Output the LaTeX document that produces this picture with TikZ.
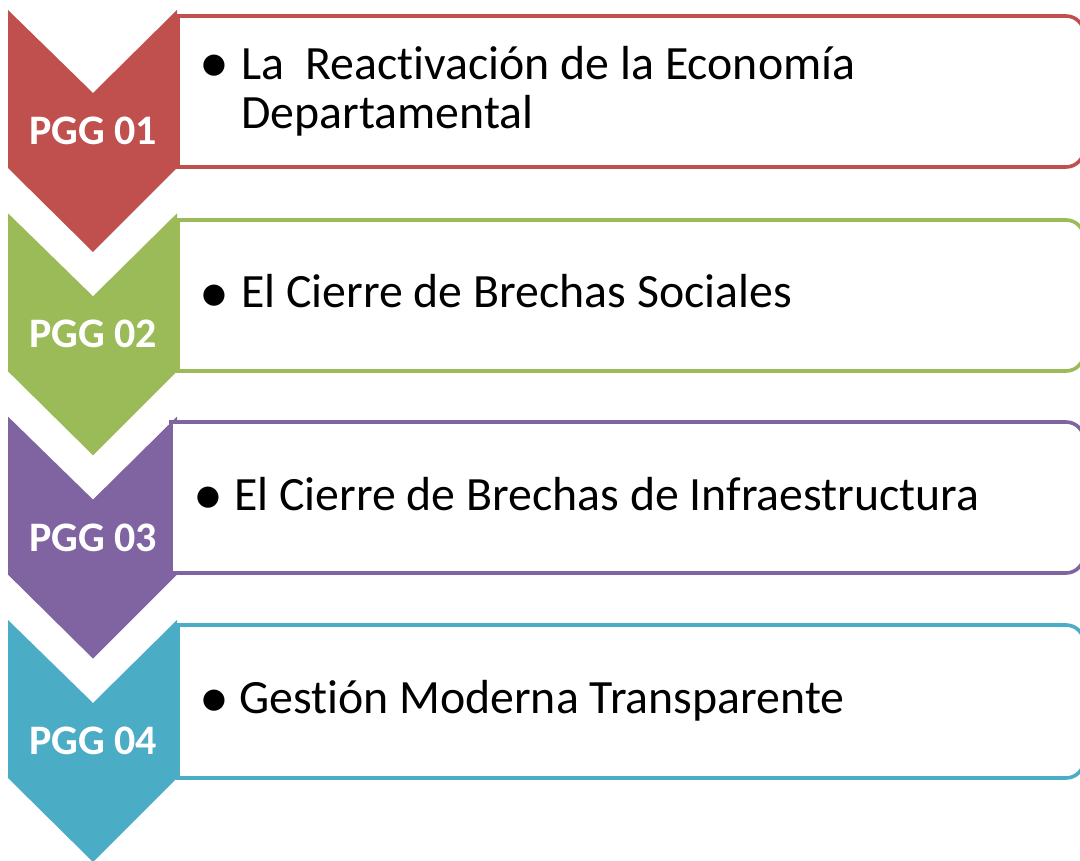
\documentclass[tikz,border=0pt]{standalone}
\usepackage{fontspec}
\setmainfont{Carlito}[Ligatures={NoCommon,NoRequired,NoContextual}]
\definecolor{cred}{HTML}{C0504D}
\definecolor{cgreen}{HTML}{9BBB59}
\definecolor{cpurple}{HTML}{8064A2}
\definecolor{cteal}{HTML}{4BACC6}
\tikzset{
  chev/.style={fill=#1, draw=none},
  boxline/.style={draw=#1, line width=3.6pt, fill=white},
  lbl/.style={text=white, font=\fontsize{42}{42}\selectfont\bfseries, inner sep=0pt, anchor=base},
  txt/.style={text=black, font=\fontsize{47.8}{48}\selectfont, inner sep=0pt, anchor=base west},
  bul/.style={text=black, font=\fontsize{60}{60}\selectfont, inner sep=0pt, anchor=base},
}
\newcommand{\chevshape}[2]{%
  \fill[chev=#2] (8,#1) -- (93,#1+83) -- (177,#1) -- (177,#1+158) -- (93,#1+242) -- (8,#1+158) -- cycle;}
\newcommand{\boxshape}[4]{%
  \draw[boxline=#4] (#1,#2) -- (1066,#2) arc[start angle=-90, end angle=0, radius=18] -- (1084,#3-18) arc[start angle=0, end angle=90, radius=18] -- (#1,#3) -- cycle;}
\begin{document}
\begin{tikzpicture}[x=1pt,y=-1pt]
\useasboundingbox (0,0) rectangle (1080,861);
\clip (0,0) rectangle (1080,861);
\fill[white] (0,0) rectangle (1080,861);
% chevrons
\chevshape{10}{cred}
\chevshape{213.3}{cgreen}
\chevshape{416.6}{cpurple}
\chevshape{620}{cteal}
% boxes
\boxshape{178}{16}{167}{cred}
\boxshape{178}{220}{371}{cgreen}
\boxshape{171}{422}{573}{cpurple}
\boxshape{178}{625}{778}{cteal}
% labels
\node[lbl] (l1) at (93,145) {PGG 01};
\node[lbl] (l2) at (93,348) {PGG 02};
\node[lbl] (l3) at (93,551) {PGG 03};
\node[lbl] (l4) at (93,754) {PGG 04};
% bullets and texts
\node[bul] (b1) at (214.5,83) {\textbullet};
\node[txt] (t1a) at (241,80) {La\ \ Reactivaci\kern0ptón de la Econom\kern0ptía};
\node[txt] (t1b) at (241,128.5) {Departamental};
\node[bul] (b2) at (214.5,313) {\textbullet};
\node[txt] (t2) at (241,308) {El Cierre de Brechas Sociales};
\node[bul] (b3) at (208,514.5) {\textbullet};
\node[txt] (t3) at (234,510) {El Cierre de Brechas de Infraestructura};
\node[bul] (b4) at (214.5,717.5) {\textbullet};
\node[txt] (t4) at (239,713) {Gesti\kern0ptón Moderna Transparente};
\end{tikzpicture}
\end{document}
